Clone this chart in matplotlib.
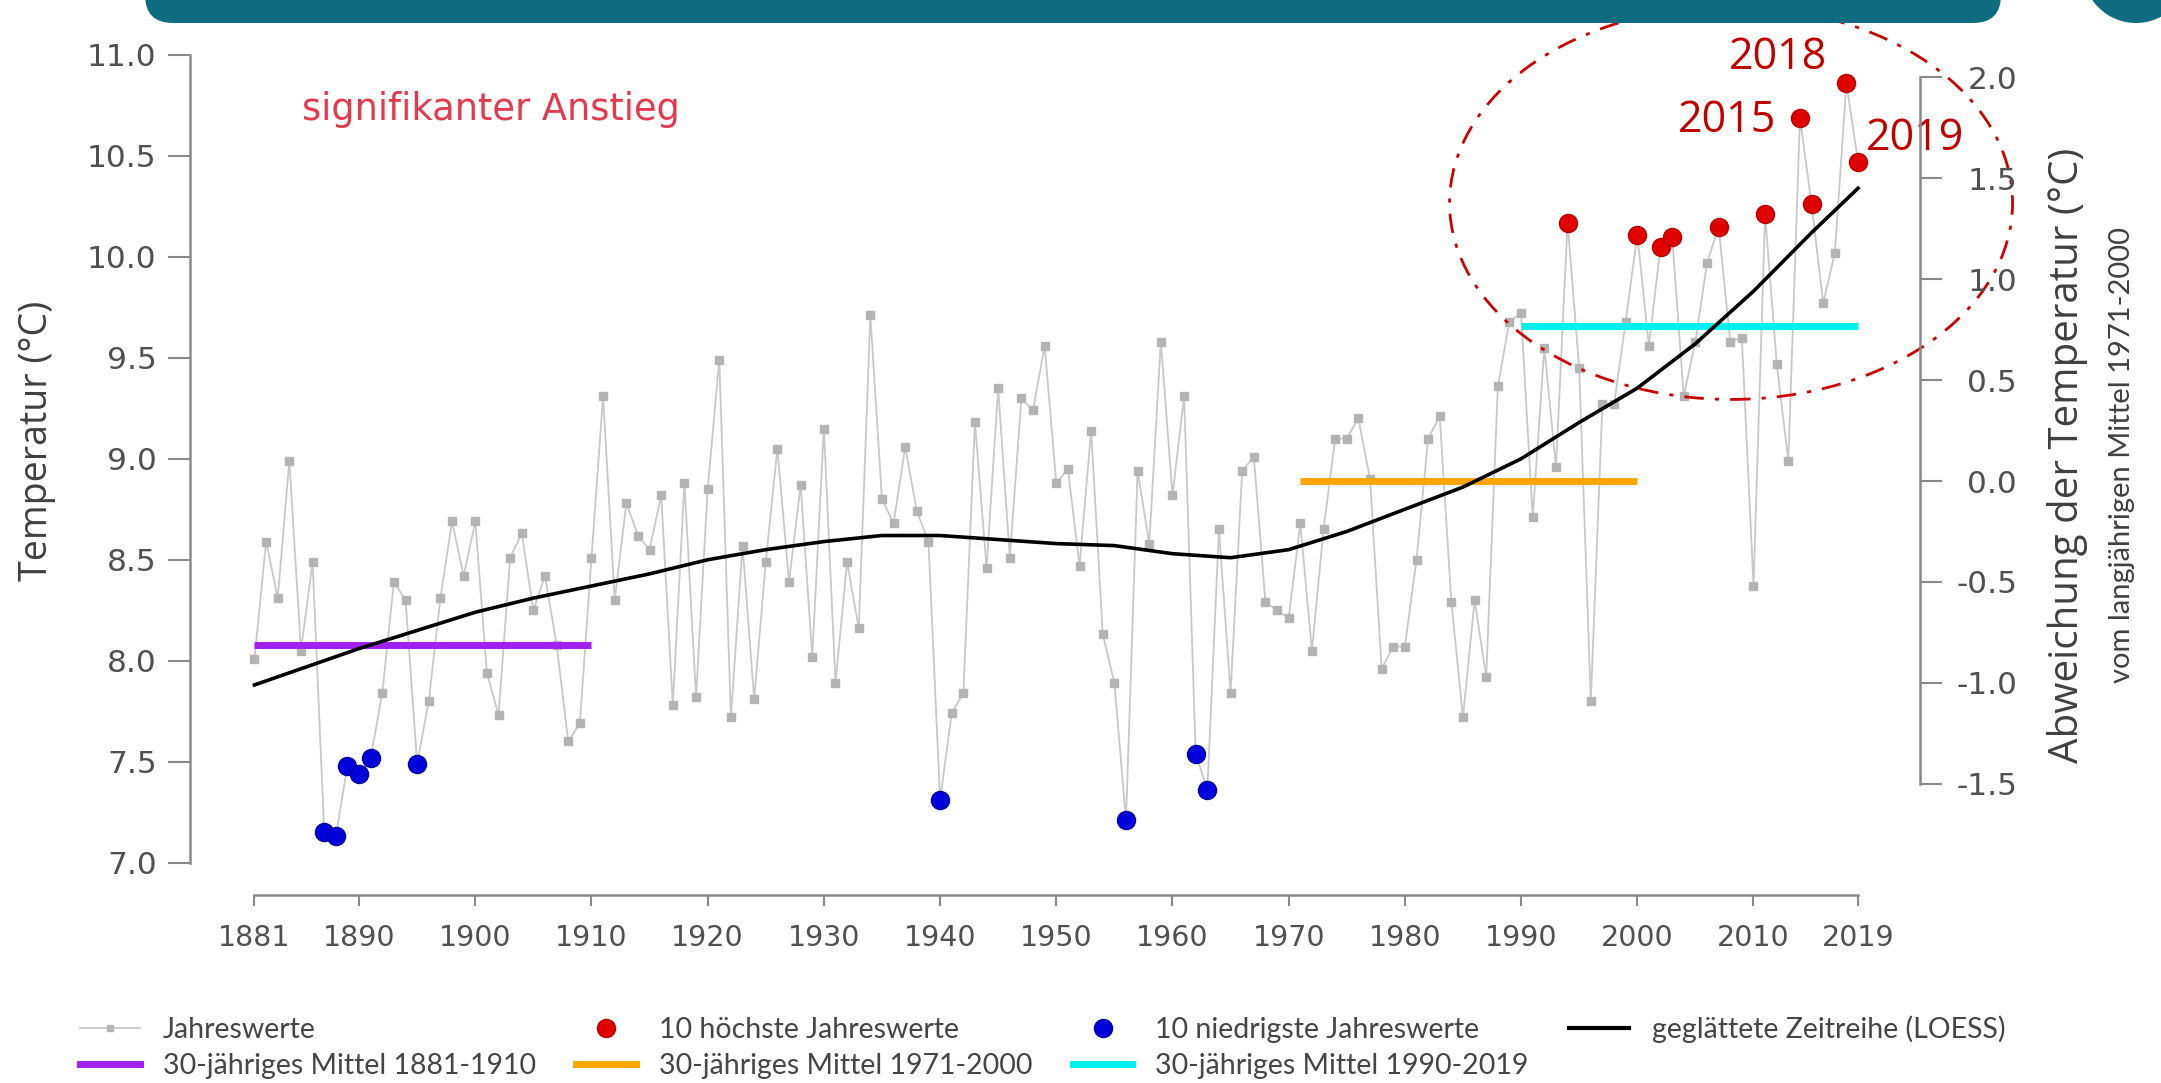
import matplotlib
matplotlib.use("Agg")
import matplotlib.pyplot as plt
from matplotlib.patches import Ellipse, FancyBboxPatch, Circle
from matplotlib.lines import Line2D
from matplotlib.transforms import IdentityTransform

plt.rcParams['axes.unicode_minus'] = False

# ---------------- data ----------------
years = list(range(1881, 2020))
temps = [
    8.01, 8.59, 8.31, 8.99, 8.05, 8.49, 7.15, 7.13, 7.48, 7.44,   # 1881-1890
    7.52, 7.84, 8.39, 8.30, 7.49, 7.80, 8.31, 8.69, 8.42, 8.69,   # 1891-1900
    7.94, 7.73, 8.51, 8.63, 8.25, 8.42, 8.08, 7.60, 7.69, 8.51,   # 1901-1910
    9.31, 8.30, 8.78, 8.62, 8.55, 8.82, 7.78, 8.88, 7.82, 8.85,   # 1911-1920
    9.49, 7.72, 8.57, 7.81, 8.49, 9.05, 8.39, 8.87, 8.02, 9.15,   # 1921-1930
    7.89, 8.49, 8.16, 9.71, 8.80, 8.68, 9.06, 8.74, 8.59, 7.31,   # 1931-1940
    7.74, 7.84, 9.18, 8.46, 9.35, 8.51, 9.30, 9.24, 9.56, 8.88,   # 1941-1950
    8.95, 8.47, 9.14, 8.13, 7.89, 7.21, 8.94, 8.58, 9.58, 8.82,   # 1951-1960
    9.31, 7.54, 7.36, 8.65, 7.84, 8.94, 9.01, 8.29, 8.25, 8.21,   # 1961-1970
    8.68, 8.05, 8.65, 9.10, 9.10, 9.20, 8.90, 7.96, 8.07, 8.07,   # 1971-1980
    8.50, 9.10, 9.21, 8.29, 7.72, 8.30, 7.92, 9.36, 9.68, 9.72,   # 1981-1990
    8.71, 9.55, 8.96, 10.17, 9.45, 7.80, 9.27, 9.27, 9.68, 10.11, # 1991-2000
    9.56, 10.05, 10.10, 9.31, 9.58, 9.97, 10.15, 9.58, 9.60, 8.37,# 2001-2010
    10.21, 9.47, 8.99, 10.69, 10.26, 9.77, 10.02, 10.86, 10.47,   # 2011-2019
]

hot_years = [1994, 2000, 2002, 2003, 2007, 2011, 2014, 2015, 2018, 2019]
cold_years = [1887, 1888, 1889, 1890, 1891, 1895, 1940, 1956, 1962, 1963]

mean_1881_1910 = 8.08
mean_1971_2000 = 8.89
mean_1990_2019 = 9.66

loess_years = [1881, 1885, 1890, 1895, 1900, 1905, 1910, 1915, 1920, 1925,
               1930, 1935, 1940, 1945, 1950, 1955, 1960, 1965, 1970, 1975,
               1980, 1985, 1990, 1995, 2000, 2005, 2010, 2015, 2019]
loess_vals = [7.88, 7.96, 8.06, 8.15, 8.24, 8.31, 8.37, 8.43, 8.50, 8.55,
              8.59, 8.62, 8.62, 8.60, 8.58, 8.57, 8.53, 8.51, 8.55, 8.64,
              8.75, 8.86, 9.00, 9.18, 9.35, 9.57, 9.83, 10.12, 10.34]

xticks = [1881, 1890, 1900, 1910, 1920, 1930, 1940, 1950, 1960, 1970, 1980, 1990, 2000, 2010, 2019]
yticks = [7.0, 7.5, 8.0, 8.5, 9.0, 9.5, 10.0, 10.5, 11.0]
yticks_right = [-1.5, -1.0, -0.5, 0.0, 0.5, 1.0, 1.5, 2.0]

# ---------------- figure ----------------
W, H = 2161, 1083
fig = plt.figure(figsize=(W / 100, H / 100), dpi=100)
fig.patch.set_facecolor('white')

ax = fig.add_axes([190 / W, 1 - 895 / H, (1920 - 190) / W, (895 - 45) / H])
ylo, yhi = 6.8395, 11.0495
ax.set_xlim(1875.45, 2024.33)
ax.set_ylim(ylo, yhi)

spine_col = '#8a8a8a'
lab_col = '#505050'
for s in ['top', 'right']:
    ax.spines[s].set_visible(False)
ax.spines['left'].set_bounds(7.0, 11.0)
ax.spines['bottom'].set_bounds(1881, 2019)
for s in ['left', 'bottom']:
    ax.spines[s].set_color(spine_col)
    ax.spines[s].set_linewidth(1.8)

ax.set_xticks(xticks)
ax.set_xticklabels([str(x) for x in xticks])
ax.set_yticks(yticks)
ax.set_yticklabels(['%.1f' % v for v in yticks])
ax.tick_params(axis='y', length=16, width=1.5, color=spine_col, labelsize=22.5,
               labelcolor=lab_col, pad=8)
ax.tick_params(axis='x', length=8, width=1.5, color=spine_col, labelsize=20.5,
               labelcolor=lab_col, pad=13)

# series
ax.plot(years, temps, color='#c8c8c8', lw=1.3, marker='s', ms=5.5,
        mfc='#b3b3b3', mec='#b3b3b3', zorder=2)

ax.plot([1881, 1910], [mean_1881_1910] * 2, color='#a020f0', lw=5,
        solid_capstyle='butt', zorder=3)
ax.plot([1971, 2000], [mean_1971_2000] * 2, color='#ffa500', lw=5,
        solid_capstyle='butt', zorder=3)
ax.plot([1990, 2019], [mean_1990_2019] * 2, color='#00f0f0', lw=5,
        solid_capstyle='butt', zorder=3)

ax.plot(loess_years, loess_vals, color='black', lw=2.6, zorder=4)

val = dict(zip(years, temps))
ax.plot(hot_years, [val[y] for y in hot_years], 'o', color='#e00000',
        mec='#b80000', ms=13, zorder=5)
ax.plot(cold_years, [val[y] for y in cold_years], 'o', color='#0000dd',
        mec='#0000a0', ms=13, zorder=5)

# ellipse highlighting the recent warm years
ell = Ellipse((2008.07, 10.267), 48.45, 1.946, fill=False, edgecolor='#cc0000',
              lw=2, ls=(0, (7, 4, 1.5, 4)), clip_on=False, zorder=6)
ax.add_patch(ell)

lab_kw = dict(color='#c00000', fontsize=31, family='Open Sans', ha='center',
              va='center', zorder=7, clip_on=False)
ax.text(2012.11, 10.985, '2018', **lab_kw)
ax.text(2007.72, 10.673, '2015', **lab_kw)
ax.text(2023.9, 10.584, '2019', **lab_kw)

# right axis: deviation from 1971-2000 mean
ax2 = ax.twinx()
ax2.set_ylim(ylo - mean_1971_2000, yhi - mean_1971_2000)
for s in ['top', 'left', 'bottom']:
    ax2.spines[s].set_visible(False)
ax2.spines['right'].set_bounds(-1.5, 2.0)
ax2.spines['right'].set_color(spine_col)
ax2.spines['right'].set_linewidth(1.8)
ax2.set_yticks(yticks_right)
ax2.set_yticklabels(['%.1f' % v for v in yticks_right])
ax2.tick_params(axis='y', length=16, width=1.5, color=spine_col, labelsize=22.5,
                labelcolor=lab_col, pad=54)
for t in ax2.get_yticklabels():
    t.set_horizontalalignment('right')

# texts
fig.text(37 / W, 1 - 441 / H, 'Temperatur (°C)', rotation=90, ha='center',
         va='center', fontsize=27, color='#404040', family='Open Sans')
fig.text(2067 / W, 1 - 455 / H, 'Abweichung der Temperatur (°C)', rotation=90,
         ha='center', va='center', fontsize=29, color='#404040', family='Open Sans')
fig.text(2122 / W, 1 - 455 / H, 'vom langjährigen Mittel 1971-2000', rotation=90,
         ha='center', va='center', fontsize=21, color='#404040', family='Lato')
fig.text(491 / W, 1 - 110 / H, 'signifikanter Anstieg', ha='center', va='center',
         fontsize=26.5, color='#e63950', family='DejaVu Sans')

# decorative banner
idt = IdentityTransform()
fig.add_artist(FancyBboxPatch((145, 1060), 1856, 80,
                              boxstyle='round,pad=0,rounding_size=28',
                              fc='#0f6b80', ec='none', transform=idt))
fig.add_artist(Circle((2136, 1113), 53, fc='#0f6b80', ec='none', transform=idt))

# legend
handles = [
    Line2D([], [], color='#c8c8c8', lw=1.3, marker='s', ms=5, mfc='#b3b3b3', mec='#b3b3b3'),
    Line2D([], [], color='#a020f0', lw=5),
    Line2D([], [], ls='none', marker='o', color='#e00000', mec='#b80000', ms=13),
    Line2D([], [], color='#ffa500', lw=5),
    Line2D([], [], ls='none', marker='o', color='#0000dd', mec='#0000a0', ms=13),
    Line2D([], [], color='#00f0f0', lw=5),
    Line2D([], [], color='black', lw=3),
]
labels = [
    'Jahreswerte',
    '30-jähriges Mittel 1881-1910',
    '10 höchste Jahreswerte',
    '30-jähriges Mittel 1971-2000',
    '10 niedrigste Jahreswerte',
    '30-jähriges Mittel 1990-2019',
    'geglättete Zeitreihe (LOESS)',
]
fig.legend(handles, labels, ncol=4, loc='upper left',
           bbox_to_anchor=(80 / W, 1 - 1015 / H), frameon=False,
           prop={'family': 'Lato', 'size': 20.5}, labelcolor='#454545',
           handlelength=2.1, handletextpad=0.8, columnspacing=1.42,
           labelspacing=0.36, borderpad=0, borderaxespad=0)

fig.savefig('out.png', dpi=100, facecolor='white')
